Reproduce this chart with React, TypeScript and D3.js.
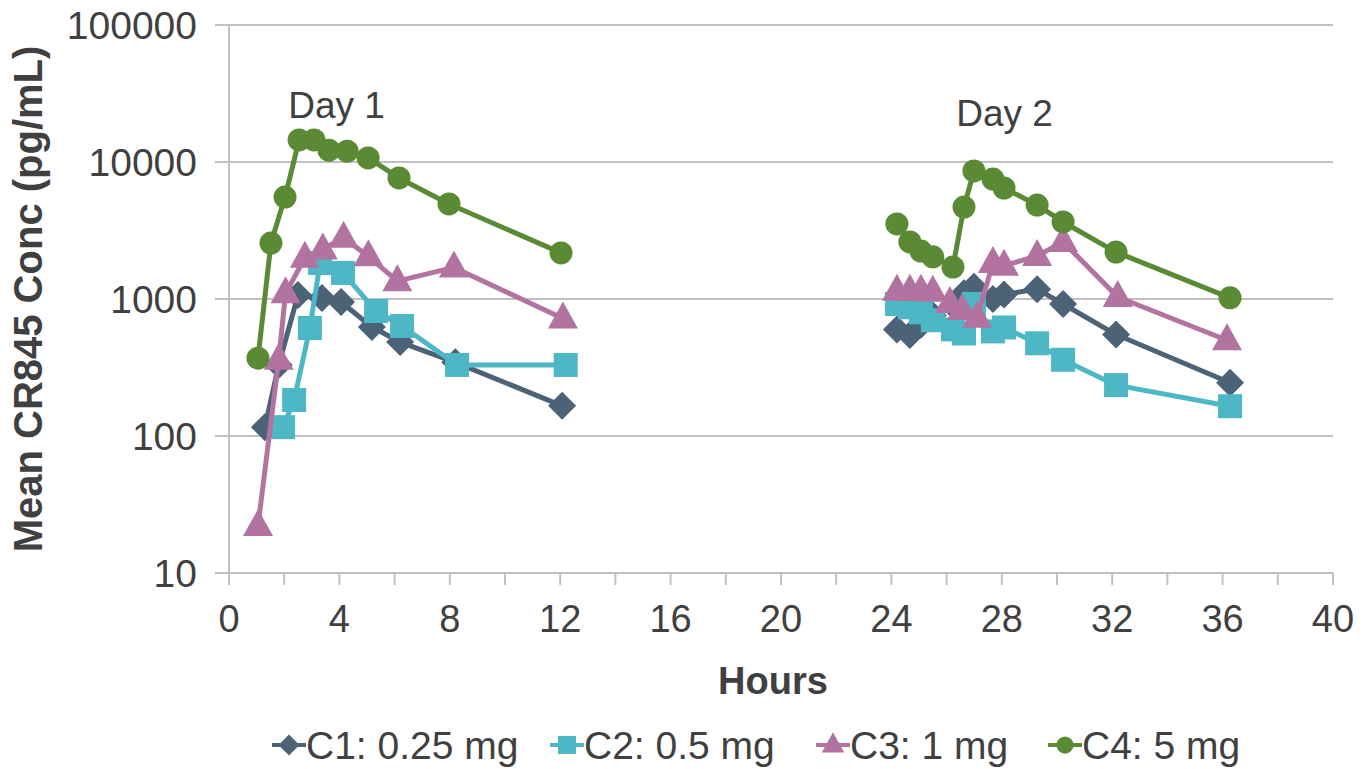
import React from "react";
import * as d3 from "d3";

const yTicks = [10, 100, 1000, 10000, 100000];
const xTicks = [0, 4, 8, 12, 16, 20, 24, 28, 32, 36, 40];
const xMinorTicks = d3.range(0, 41, 2);

const c1Day1Hours = [1.3, 1.8, 2.5, 3.37, 4.06, 5.18, 6.2, 8.2, 12.07];
const c1Day1Values = [116, 330, 1070, 1017, 950, 625, 485, 345, 166];
const c1Day2Hours = [24.2, 24.67, 25.07, 25.5, 26.23, 26.63, 26.99, 27.68, 28.08, 29.28, 30.22, 32.14, 36.27];
const c1Day2Values = [600, 545, 650, 760, 900, 1100, 1230, 1000, 1080, 1180, 920, 550, 245];

const c2Day1Hours = [1.96, 2.36, 2.93, 3.3, 4.13, 5.33, 6.27, 8.26, 12.2];
const c2Day1Values = [116, 183, 614, 1830, 1550, 817, 635, 330, 330];
const c2Day2Hours = [24.2, 24.67, 25.07, 25.5, 26.23, 26.63, 26.99, 27.68, 28.08, 29.28, 30.22, 32.14, 36.27];
const c2Day2Values = [920, 870, 800, 700, 600, 560, 920, 580, 620, 475, 360, 235, 165];

const c3Day1Hours = [1.05, 1.8, 2.05, 2.75, 3.4, 4.15, 5.05, 6.1, 8.15, 12.1];
const c3Day1Values = [22, 360, 1100, 2000, 2300, 2800, 2050, 1350, 1700, 720];
const c3Day2Hours = [24.2, 24.67, 25.07, 25.5, 26.12, 26.56, 27.1, 27.68, 28.08, 29.28, 30.22, 32.2, 36.16];
const c3Day2Values = [1150, 1150, 1150, 1130, 935, 830, 730, 1830, 1750, 2060, 2610, 1035, 500];

const c4Day1Hours = [1.05, 1.52, 2.03, 2.54, 3.08, 3.62, 4.28, 5.04, 6.16, 7.97, 12.03];
const c4Day1Values = [370, 2560, 5550, 14500, 14500, 12200, 12000, 10700, 7650, 4940, 2170];
const c4Day2Hours = [24.2, 24.67, 25.07, 25.5, 26.23, 26.63, 26.99, 27.68, 28.08, 29.28, 30.22, 32.14, 36.27];
const c4Day2Values = [3530, 2610, 2240, 2030, 1710, 4690, 8600, 7510, 6460, 4850, 3650, 2200, 1020];

const seriesNames = ["C1: 0.25 mg", "C2: 0.5 mg", "C3: 1 mg", "C4: 5 mg"];
const seriesColors = ["#4c6277", "#4db7c5", "#b273a0", "#5a8a34"];
const seriesMarkers = ["diamond", "square", "triangle", "circle"];
const dayLabels = ["Day 1", "Day 2"];
const dayLabelHours = [3.9, 28.1];
const dayLabelValues = [26000, 23000];

const W = 1370;
const H = 769;
const left = 229, right = 1333, top = 25, bottom = 573;
const textColor = "#404040";
const gridColor = "#c0c0c0";

function markerPath(kind: string): string {
  if (kind === "diamond") return "M0,-14L14,0L0,14L-14,0Z";
  if (kind === "square") return "M-12,-12H12V12H-12Z";
  if (kind === "triangle") return "M0,-17L15,10L-15,10Z";
  return d3.symbol(d3.symbolCircle, Math.PI * 11.5 * 11.5)() as string;
}

export default function App() {
  const x = d3.scaleLinear().domain([0, 40]).range([left, right]);
  const y = d3.scaleLog().domain([10, 100000]).range([bottom, top]);
  const line = d3
    .line<[number, number]>()
    .x((d) => x(d[0]))
    .y((d) => y(d[1]));

  const series = [
    [[c1Day1Hours, c1Day1Values], [c1Day2Hours, c1Day2Values]],
    [[c2Day1Hours, c2Day1Values], [c2Day2Hours, c2Day2Values]],
    [[c3Day1Hours, c3Day1Values], [c3Day2Hours, c3Day2Values]],
    [[c4Day1Hours, c4Day1Values], [c4Day2Hours, c4Day2Values]],
  ].map((segs) =>
    segs.map(([hs, vs]) => hs.map((h, i) => [h, vs[i]] as [number, number]))
  );

  const legendX = [289, 567, 833, 1065];
  const legendY = 745;

  return (
    <svg
      width={W}
      height={H}
      style={{ position: "absolute", left: 0, top: 0, background: "#fff" }}
      fontFamily="'Liberation Sans', Arial, sans-serif"
    >
      {yTicks.map((t) => (
        <g key={"g" + t}>
          <line x1={left - 14} x2={right} y1={y(t)} y2={y(t)} stroke={gridColor} strokeWidth={2} />
          <text x={197} y={y(t)} dy="0.36em" textAnchor="end" fontSize={39} fill={textColor}>
            {t}
          </text>
        </g>
      ))}
      <line x1={left} x2={left} y1={top} y2={bottom} stroke={gridColor} strokeWidth={2} />
      {xMinorTicks.map((t) => (
        <line key={"xt" + t} x1={x(t)} x2={x(t)} y1={bottom} y2={bottom + 12} stroke={gridColor} strokeWidth={2} />
      ))}
      {xTicks.map((t) => (
        <text key={"xl" + t} x={x(t)} y={618} dy="0.36em" textAnchor="middle" fontSize={38} fill={textColor}>
          {t}
        </text>
      ))}
      <text x={773} y={680} dy="0.36em" textAnchor="middle" fontSize={38} fontWeight="bold" fill={textColor}>
        Hours
      </text>
      <text
        transform={`translate(28,${(top + bottom) / 2}) rotate(-90)`}
        textAnchor="middle"
        dy="0.36em"
        fontSize={40}
        fontWeight="bold"
        fill={textColor}
      >
        Mean CR845 Conc (pg/mL)
      </text>
      {dayLabels.map((l, i) => (
        <text key={l} x={x(dayLabelHours[i])} y={y(dayLabelValues[i])} dy="0.36em" textAnchor="middle" fontSize={37} fill={textColor}>
          {l}
        </text>
      ))}

      {series.map((segs, si) => (
        <g key={"s" + si}>
          {segs.map((pts, k) => (
            <path key={k} d={line(pts) as string} fill="none" stroke={seriesColors[si]} strokeWidth={5} strokeLinejoin="round" />
          ))}
          {segs.flat().map((p, k) => (
            <path key={"m" + k} d={markerPath(seriesMarkers[si])} transform={`translate(${x(p[0])},${y(p[1])})`} fill={seriesColors[si]} />
          ))}
        </g>
      ))}

      {seriesNames.map((n, i) => (
        <g key={n} transform={`translate(${legendX[i]},${legendY})`}>
          <line x1={-17} x2={17} y1={0} y2={0} stroke={seriesColors[i]} strokeWidth={4} />
          <path d={markerPath(seriesMarkers[i])} transform="scale(0.75)" fill={seriesColors[i]} />
          <text x={17} y={0} dy="0.36em" fontSize={39} fill={textColor}>
            {n}
          </text>
        </g>
      ))}
    </svg>
  );
}
